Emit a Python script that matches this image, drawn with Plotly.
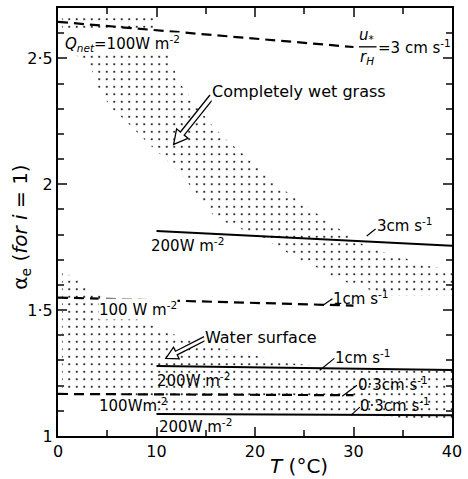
import plotly.graph_objects as go
import math

# ---------------- data ----------------
T_100 = [0, 30]          # Qnet = 100 W m-2 lines span
T_200 = [10, 40]         # Qnet = 200 W m-2 lines span
alpha_100_3 = [2.645, 2.545]
alpha_200_3 = [1.814, 1.756]
alpha_100_1 = [1.550, 1.518]
alpha_200_1 = [1.278, 1.262]
alpha_100_03 = [1.167, 1.162]
alpha_200_03 = [1.087, 1.082]

grass_T = [0.4, 9.9, 9.9, 11.2, 12.4, 13.9, 15.5, 17.0, 18.5, 20.2, 22.2, 24.7, 27.2, 29.0,
           31.0, 33.0, 35.0, 37.0, 40.0, 40.0, 33.0, 32.0, 30.0, 28.0, 27.0, 24.0, 22.0,
           20.5, 17.2, 15.9, 14.5, 13.5, 12.5, 10.9, 9.5, 8.2, 6.9, 5.5, 4.2, 3.8, 3.1,
           1.9, 0.8, 0.4]
grass_alpha = [2.68, 2.68, 2.60, 2.51, 2.40, 2.32, 2.24, 2.18, 2.13, 2.08, 2.00, 1.925, 1.86,
               1.81, 1.76, 1.73, 1.71, 1.68, 1.656, 1.557, 1.557, 1.577, 1.60, 1.63, 1.656,
               1.71, 1.76, 1.79, 1.845, 1.87, 1.94, 1.99, 2.04, 2.10, 2.15, 2.20, 2.25, 2.30,
               2.37, 2.42, 2.48, 2.51, 2.58, 2.60]

water_T = [0.4, 1.8, 2.4, 3.7, 6.0, 8.2, 10.2, 12.4, 15.0, 17.0, 19.0, 21.0, 23.5, 26.0,
           28.0, 40.0, 40.0, 36.0, 34.0, 10.0, 9.5, 4.0, 0.4]
water_alpha = [1.65, 1.63, 1.606, 1.57, 1.52, 1.46, 1.43, 1.393, 1.36, 1.345, 1.33, 1.31,
               1.29, 1.28, 1.27, 1.262, 1.055, 1.062, 1.078, 1.088, 1.15, 1.165, 1.185]

x_ticks = [0, 10, 20, 30, 40]
y_ticks = [1, 1.5, 2, 2.5]
y_ticktext = ["1", "1·5", "2", "2·5"]

# ---------------- layout geometry ----------------
W, H = 468, 479
ML, MR, MT, MB = 58, 8, 6, 43
PW, PH = W - ML - MR, H - MT - MB
FONT = "DejaVu Sans"


def px(x, y):
    return (x - ML) / PW, (H - MB - y) / PH


fig = go.Figure()

pattern = dict(shape=".", fgcolor="black", bgcolor="rgba(0,0,0,0)", size=7.5, solidity=0.06,
               fgopacity=1)
fig.add_trace(go.Scatter(x=grass_T, y=grass_alpha, fill="toself", mode="none",
                         fillcolor="rgba(0,0,0,0)", fillpattern=pattern, hoverinfo="skip"))
fig.add_trace(go.Scatter(x=water_T, y=water_alpha, fill="toself", mode="none",
                         fillcolor="rgba(0,0,0,0)", fillpattern=pattern, hoverinfo="skip"))

dash = "10px,6px"
for ys in (alpha_100_3, alpha_100_1, alpha_100_03):
    fig.add_trace(go.Scatter(x=T_100, y=ys, mode="lines",
                             line=dict(color="black", width=2.2, dash=dash)))
for ys in (alpha_200_3, alpha_200_1, alpha_200_03):
    fig.add_trace(go.Scatter(x=T_200, y=ys, mode="lines",
                             line=dict(color="black", width=2)))

annotations = []
shapes = []


def label(text, x, y, size=15, xanchor="left", bg=None, **kw):
    xp, yp = px(x, y)
    d = dict(text=text, x=xp, y=yp, xref="paper", yref="paper", showarrow=False,
             xanchor=xanchor, yanchor="middle", font=dict(family=FONT, size=size, color="black"),
             borderpad=0)
    if bg:
        d["bgcolor"] = bg
    d.update(kw)
    annotations.append(d)


def seg(x0, y0, x1, y1, w=1.2):
    a, b = px(x0, y0)
    c, d = px(x1, y1)
    shapes.append(dict(type="line", xref="paper", yref="paper", x0=a, y0=b, x1=c, y1=d,
                       line=dict(color="black", width=w)))


def hollow_arrow(x0, y0, x1, y1, sw=5, hw=15, hl=14):
    L = math.hypot(x1 - x0, y1 - y0)
    dx, dy = (x1 - x0) / L, (y1 - y0) / L
    nx, ny = -dy, dx
    bx, by = x1 - dx * hl, y1 - dy * hl
    pts = [(x0 + nx * sw / 2, y0 + ny * sw / 2), (bx + nx * sw / 2, by + ny * sw / 2),
           (bx + nx * hw / 2, by + ny * hw / 2), (x1, y1),
           (bx - nx * hw / 2, by - ny * hw / 2), (bx - nx * sw / 2, by - ny * sw / 2),
           (x0 - nx * sw / 2, y0 - ny * sw / 2)]
    path = ""
    for i, (a, b) in enumerate(pts):
        p, q = px(a, b)
        path += ("M" if i == 0 else "L") + f"{p:.5f},{q:.5f} "
    shapes.append(dict(type="path", xref="paper", yref="paper", path=path,
                       line=dict(color="black", width=1.3), fillcolor="white"))


# texts
label("<i>Q<sub>net</sub></i>=100W m<sup>-2</sup>", 64, 42, size=15, bg="white")
label("<i>u</i><sub>*</sub>", 373, 34, size=15, xanchor="center")
seg(365, 45, 383, 45, w=1.3)
label("<i>r<sub>H</sub></i>", 373, 56, size=15, xanchor="center")
label("=3 cm s<sup>-1</sup>", 383, 45, size=15)
label("Completely wet grass", 214, 90, size=16, bg="white")
hollow_arrow(215, 95, 176, 143)

label("3cm s<sup>-1</sup>", 382, 224)
seg(373, 235, 382, 228)
label("200W m<sup>-2</sup>", 152, 244)

label("100 W m<sup>-2</sup>", 99, 308, bg="white")
label("1cm s<sup>-1</sup>", 338, 297)
seg(328, 305, 338, 298)

label("Water surface", 207, 337, size=16, bg="white")
hollow_arrow(208, 338, 168, 358, sw=4, hw=13, hl=12)

label("1cm s<sup>-1</sup>", 340, 357)
seg(325, 370, 340, 358)
label("200W m<sup>-2</sup>", 158, 380)

label("0·3cm s<sup>-1</sup>", 363, 384)
seg(348, 396, 363, 385)
label("100Wm<sup>-2</sup>", 99, 405)
label("0·3cm s<sup>-1</sup>", 365, 405)
seg(357, 415, 366, 407)
label("200W m<sup>-2</sup>", 160, 426)

# axis titles
label("<i>T</i> (°C)", 304, 466, size=20, xanchor="center")
label("α<sub>e</sub> (<i>for i</i> = 1)", 20, 226, size=20, xanchor="center", textangle=-90)

fig.update_layout(
    width=W, height=H,
    margin=dict(l=ML, r=MR, t=MT, b=MB),
    paper_bgcolor="white", plot_bgcolor="white",
    showlegend=False,
    annotations=annotations, shapes=shapes,
    font=dict(family=FONT, size=16, color="black"),
)
fig.update_xaxes(range=[0, 40], tickvals=x_ticks, ticks="inside", ticklen=9, tickwidth=1.5,
                 showgrid=False, zeroline=False, showline=True, linecolor="black", linewidth=2,
                 mirror="ticks", tickfont=dict(family=FONT, size=16), ticklabeloverflow="allow",
                 minor=dict(ticks="inside", ticklen=6, dtick=5, tick0=0, showgrid=False))
fig.update_yaxes(range=[1, 2.7], tickvals=y_ticks, ticktext=y_ticktext, ticks="inside",
                 ticklen=9, tickwidth=1.5, showgrid=False, zeroline=False, showline=True,
                 linecolor="black", linewidth=2, mirror="ticks",
                 tickfont=dict(family=FONT, size=16),
                 minor=dict(ticks="inside", ticklen=6, dtick=0.1, tick0=1, showgrid=False))

fig.write_html("out.html", config={"displayModeBar": False},
               post_script="document.body.style.margin='0';document.body.style.overflow='hidden';")
